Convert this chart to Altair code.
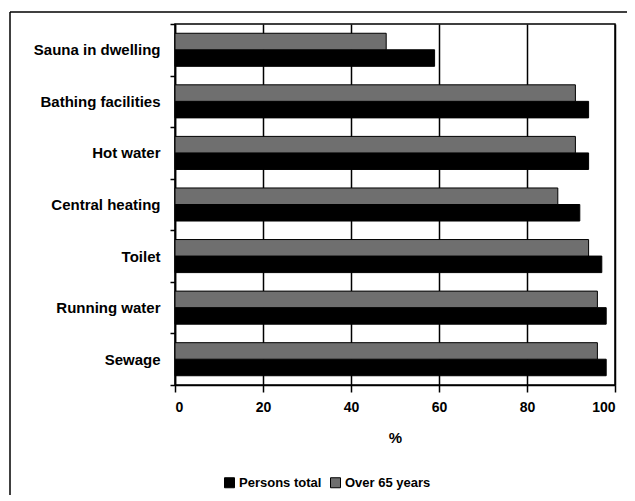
import altair as alt
import pandas as pd

categories = ["Sauna in dwelling", "Bathing facilities", "Hot water",
              "Central heating", "Toilet", "Running water", "Sewage"]
persons_total = [59, 94, 94, 92, 97, 98, 98]
over_65 = [48, 91, 91, 87, 94, 96, 96]
series = ["Persons total", "Over 65 years"]
x_ticks = [0, 20, 40, 60, 80, 100]

rows = []
for c, p, o in zip(categories, persons_total, over_65):
    rows.append({"category": c, "series": series[0], "value": p})
    rows.append({"category": c, "series": series[1], "value": o})
df = pd.DataFrame(rows)

FONT = "Liberation Sans"

bars = alt.Chart(df).mark_bar(stroke="black", strokeWidth=1).encode(
    y=alt.Y("category:N", sort=categories,
            scale=alt.Scale(paddingInner=0, paddingOuter=0),
            axis=alt.Axis(title=None, tickBand="extent", labelFont=FONT,
                          labelFontSize=15, labelFontWeight="bold",
                          labelColor="black", labelPadding=10, labelLimit=300,
                          tickSize=5, tickColor="black", domainColor="black",
                          domainWidth=1.5, tickWidth=1.5, grid=False)),
    yOffset=alt.YOffset("series:N", sort=["Over 65 years", "Persons total"],
                        scale=alt.Scale(paddingInner=0, paddingOuter=0.56)),
    x=alt.X("value:Q", scale=alt.Scale(domain=[0, 100], nice=False),
            axis=alt.Axis(title="%", values=x_ticks, labelFont=FONT,
                          labelFontSize=14, labelFontWeight="bold",
                          labelColor="black", labelPadding=8,
                          titleFont=FONT, titleFontSize=15,
                          titleFontWeight="bold", titleColor="black",
                          titlePadding=16, tickSize=7, tickColor="black",
                          tickWidth=1.5, domainColor="black", domainWidth=1.5,
                          grid=True, gridColor="black", gridWidth=1.5,
                          gridOpacity=1)),
    color=alt.Color("series:N",
                    scale=alt.Scale(domain=series, range=["#000000", "#6f6f6f"]),
                    legend=alt.Legend(title=None, orient="none", legendX=48,
                                      legendY=452, direction="horizontal",
                                      symbolType="square", symbolSize=100,
                                      symbolStrokeColor="black",
                                      symbolStrokeWidth=1,
                                      labelFont=FONT, labelFontSize=13,
                                      labelFontWeight="bold",
                                      labelColor="black", labelOffset=3,
                                      columnPadding=6)),
)

one = pd.DataFrame({"d": [0]})
frame_top = alt.Chart(one).mark_rule(color="black", strokeWidth=1.5).encode(
    x=alt.value(-165), x2=alt.value(470), y=alt.value(-12))
frame_left = alt.Chart(one).mark_rule(color="black", strokeWidth=1.5).encode(
    x=alt.value(-165), y=alt.value(-12), y2=alt.value(480))

chart = alt.layer(frame_top, frame_left, bars).properties(
    width=440, height=361,
    autosize=alt.AutoSizeParams(type="none"),
    padding={"left": 167, "top": 16, "right": 12, "bottom": 110},
).configure_view(stroke="black", strokeWidth=1.5)

chart.save("out.html", embed_options={"renderer": "svg", "actions": False})
